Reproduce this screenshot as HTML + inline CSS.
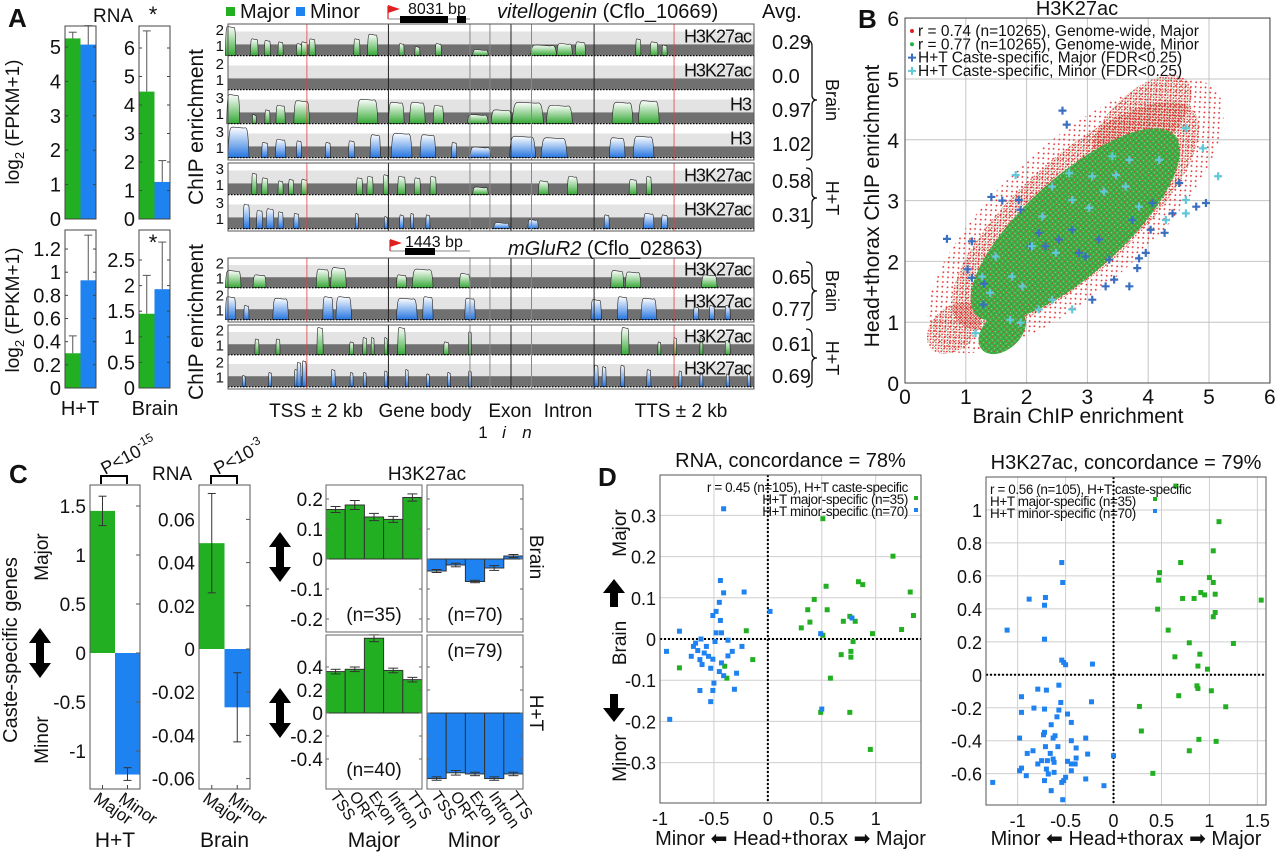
<!DOCTYPE html>
<html><head><meta charset="utf-8">
<style>html,body{margin:0;padding:0;background:#fff;}svg{display:block;font-family:"Liberation Sans",Arial,sans-serif;}</style>
</head><body>
<svg id="fig" xmlns="http://www.w3.org/2000/svg" width="1280" height="853" viewBox="0 0 1280 853">
<defs>
<linearGradient id="gG" x1="0" y1="0" x2="0" y2="1"><stop offset="0" stop-color="#ffffff"/><stop offset="1" stop-color="#34a834"/></linearGradient>
<linearGradient id="gB" x1="0" y1="0" x2="0" y2="1"><stop offset="0" stop-color="#ffffff"/><stop offset="1" stop-color="#2474e0"/></linearGradient>
<pattern id="pRedSparse" width="7" height="7" patternUnits="userSpaceOnUse"><circle cx="1.5" cy="1.5" r="0.9" fill="#e02020"/><circle cx="5" cy="4.5" r="0.9" fill="#e02020"/></pattern>
<pattern id="pRedDense" width="4" height="4" patternUnits="userSpaceOnUse"><circle cx="1" cy="1" r="0.9" fill="#e02020"/><circle cx="3" cy="3" r="0.8" fill="#d83030"/><circle cx="3" cy="1" r="0.5" fill="#3cae3c"/></pattern>
<pattern id="pGreen" width="4" height="4" patternUnits="userSpaceOnUse"><rect width="4" height="4" fill="#3cae44"/><circle cx="3" cy="1" r="0.6" fill="#e03030"/><circle cx="1" cy="3" r="0.5" fill="#bfe8bf"/></pattern>
</defs>
</svg>
<script>
// ---------------- DATA ----------------
const rnaCats = ['Major','Minor'];
const rnaTopHT = [5.25, 5.07];
const rnaTopHTErr = [0.18, 0.55];
const rnaTopBrain = [4.47, 1.3];
const rnaTopBrainErr = [2.13, 0.75];
const rnaBotHT = [0.3, 0.93];
const rnaBotHTErr = [0.15, 0.39];
const rnaBotBrain = [1.45, 1.93];
const rnaBotBrainErr = [0.75, 0.92];

const avgTop = ['0.29','0.0','0.97','1.02','0.58','0.31'];
const avgBot = ['0.65','0.77','0.61','0.69'];
const trackLabelsTop = ['H3K27ac','H3K27ac','H3','H3','H3K27ac','H3K27ac'];
const trackTicksTop = [['2','1'],['2','1'],['3','1'],['3','1'],['3','1'],['3','1']];
const trackTicksBot = [['2','1'],['2','1'],['2','1'],['2','1']];
const pkT1 = [[0.005,0.02,0.95],[0.05,0.015,0.55],[0.075,0.012,0.5],[0.1,0.01,0.45],[0.135,0.01,0.4],[0.145,0.012,0.45],[0.16,0.012,0.55],[0.245,0.012,0.55],[0.275,0.02,0.7],[0.33,0.01,0.4],[0.36,0.01,0.3],[0.4,0.012,0.4],[0.48,0.03,0.2],[0.6,0.05,0.35],[0.64,0.03,0.4],[0.67,0.02,0.45],[0.78,0.01,0.55],[0.81,0.015,0.45],[0.83,0.01,0.35]];
const pkT2 = [];
const pkT3 = [[0.01,0.025,0.95],[0.05,0.008,0.3],[0.075,0.01,0.45],[0.1,0.018,0.6],[0.14,0.03,0.75],[0.265,0.04,0.8],[0.32,0.03,0.7],[0.36,0.03,0.7],[0.4,0.02,0.6],[0.475,0.04,0.3],[0.52,0.04,0.45],[0.57,0.06,0.7],[0.63,0.05,0.6],[0.75,0.04,0.7],[0.8,0.04,0.75]];
const pkT4 = [[0.02,0.04,1.0],[0.07,0.012,0.5],[0.1,0.02,0.6],[0.135,0.01,0.55],[0.19,0.01,0.5],[0.235,0.012,0.55],[0.28,0.02,0.75],[0.33,0.04,0.8],[0.38,0.03,0.75],[0.43,0.01,0.5],[0.48,0.04,0.35],[0.56,0.05,0.7],[0.62,0.05,0.65],[0.74,0.03,0.65],[0.79,0.04,0.7]];
const pkT5 = [[0.05,0.01,0.7],[0.07,0.012,0.55],[0.1,0.01,0.45],[0.12,0.01,0.5],[0.145,0.012,0.5],[0.25,0.012,0.55],[0.27,0.012,0.6],[0.3,0.01,0.65],[0.33,0.015,0.6],[0.36,0.012,0.55],[0.39,0.012,0.6],[0.48,0.03,0.25],[0.6,0.02,0.45],[0.655,0.02,0.6],[0.77,0.015,0.5],[0.8,0.01,0.6]];
const pkT6 = [[0.035,0.012,0.8],[0.06,0.012,0.6],[0.08,0.015,0.65],[0.1,0.01,0.55],[0.13,0.01,0.5],[0.245,0.006,0.5],[0.3,0.006,0.4],[0.33,0.008,0.45],[0.35,0.006,0.5],[0.38,0.008,0.45],[0.52,0.03,0.2],[0.58,0.02,0.3],[0.72,0.01,0.45],[0.8,0.02,0.5],[0.83,0.012,0.45]];
const pkB1 = [[0.01,0.03,0.6],[0.06,0.025,0.45],[0.18,0.025,0.65],[0.21,0.03,0.7],[0.33,0.02,0.45],[0.37,0.04,0.65],[0.45,0.02,0.5],[0.74,0.025,0.6],[0.77,0.03,0.55],[0.915,0.03,0.45]];
const pkB2 = [[0.005,0.02,0.8],[0.035,0.01,0.5],[0.1,0.03,0.75],[0.19,0.02,0.8],[0.22,0.03,0.8],[0.34,0.04,0.75],[0.38,0.02,0.8],[0.46,0.02,0.75],[0.7,0.02,0.7],[0.75,0.02,0.8],[0.8,0.03,0.75],[0.89,0.01,0.45],[0.92,0.01,0.5],[0.95,0.01,0.5]];
const pkB3 = [[0.055,0.008,0.55],[0.095,0.008,0.55],[0.175,0.012,0.95],[0.235,0.008,0.45],[0.26,0.008,0.6],[0.275,0.006,0.6],[0.3,0.006,0.6],[0.33,0.015,0.95],[0.415,0.01,0.45],[0.46,0.006,0.8],[0.755,0.015,0.95],[0.82,0.006,0.45],[0.85,0.006,0.6],[0.9,0.006,0.6],[0.95,0.01,0.5]];
const pkB4 = [[0.03,0.006,0.4],[0.08,0.006,0.5],[0.13,0.008,0.6],[0.135,0.008,0.85],[0.145,0.008,0.9],[0.2,0.008,0.6],[0.235,0.006,0.5],[0.26,0.006,0.5],[0.3,0.006,0.55],[0.34,0.006,0.6],[0.38,0.006,0.45],[0.42,0.006,0.5],[0.46,0.006,0.55],[0.7,0.008,0.75],[0.715,0.008,0.7],[0.75,0.008,0.75],[0.8,0.008,0.6],[0.86,0.006,0.55],[0.9,0.006,0.5],[0.95,0.006,0.45],[0.99,0.006,0.45]];
const regionLines = [0.150,0.305,0.460,0.498,0.538,0.577,0.696,0.848];

const bTicks = [0,1,2,3,4,5,6];
const cloudRedWide = [2.8,2.75,3.1,1.2];
const cloudRedCore = [2.8,2.75,2.6,0.95];
const cloudRedLow = [0.8,0.9,0.5,0.35];
const cloudRedHigh = [3.9,4.3,1.0,0.5];
const cloudGreen = [2.8,2.6,2.2,0.8];
const cloudGreenLow = [1.6,0.85,0.45,0.3];
const majX = [2.59,2.66,1.42,1.60,0.69,1.10,1.03,1.10,1.30,1.29,1.87,1.90,2.20,2.31,2.75,2.86,3.08,3.30,3.44,3.69,3.82,3.96,3.85,4.04,4.27,4.40,4.79,4.95,4.51,4.07,3.74,3.36,3.19,2.97,2.53,2.06];
const majY = [4.48,4.25,3.06,3.00,2.37,2.33,1.87,1.73,1.63,1.29,3.01,2.85,2.47,2.25,2.52,2.14,1.37,1.59,1.70,1.59,1.89,2.14,2.05,2.52,2.47,2.79,2.90,2.96,3.29,2.96,2.68,2.03,2.36,2.08,2.36,2.25];
const minX = [1.82,2.70,2.42,3.08,3.41,3.47,3.69,4.18,4.62,4.90,5.15,4.62,4.62,4.29,3.63,3.03,2.75,2.26,2.09,1.76,1.49,1.40,1.90,1.73,2.20,2.42,2.75,1.27,1.16,3.27,3.85,2.48,1.93];
const minY = [3.42,3.45,3.23,3.40,3.73,3.42,3.67,3.67,4.19,3.86,3.40,3.01,2.79,2.68,3.23,2.88,3.01,2.74,2.25,1.75,2.08,1.48,0.99,1.04,1.21,1.37,1.21,1.75,0.82,3.15,2.90,2.14,1.59];

const cCats = ['Major','Minor'];
const cHT = [1.45,-1.24];
const cHTErrLo = [1.30,-1.30];
const cHTErrHi = [1.60,-1.17];
const cBrain = [0.049,-0.027];
const cBrainErrLo = [0.026,-0.043];
const cBrainErrHi = [0.072,-0.011];
const regions = ['TSS','ORF','Exon','Intron','TTS'];
const brainMajor = [0.165,0.18,0.14,0.132,0.205];
const brainMinor = [-0.04,-0.02,-0.075,-0.03,0.01];
const htMajor = [0.36,0.38,0.65,0.37,0.29];
const htMinor = [-0.57,-0.52,-0.53,-0.57,-0.53];
const brainMajorErr = [0.01,0.015,0.012,0.01,0.012];
const brainMinorErr = [0.005,0.006,0.004,0.008,0.005];
const htMajorErr = [0.02,0.02,0.03,0.02,0.02];
const htMinorErr = [0.015,0.02,0.015,0.015,0.015];

const dRnaGreenX = [0.51,1.16,0.84,0.88,0.54,1.32,0.43,0.37,0.55,1.35,0.76,0.70,0.81,0.39,0.31,1.24,-0.20,0.97,0.51,0.79,0.77,0.68,0.77,-0.14,-0.82,-0.40,-0.38,0.58,0.49,0.76,0.95];
const dRnaGreenY = [0.292,0.201,0.139,0.132,0.128,0.114,0.096,0.071,0.071,0.057,0.055,0.043,0.043,0.041,0.027,0.023,0.020,0.013,0.009,-0.006,-0.03,-0.038,-0.044,-0.05,-0.07,-0.066,-0.095,-0.095,-0.178,-0.178,-0.268];
const dRnaBlueX = [-0.41,-0.44,-0.41,-0.22,-0.45,-0.48,-0.51,-0.44,0.02,-0.82,-0.48,-0.43,0.49,0.78,-0.62,-0.37,-0.49,-0.94,-0.24,-0.69,-0.65,-0.59,-0.55,-0.51,-0.71,-0.37,-0.33,-0.43,-0.61,-0.53,-0.45,-0.29,-0.41,-0.50,-0.63,-0.51,-0.31,-0.53,0.50,-0.91,-0.67,-0.63,-0.57];
const dRnaBlueY = [0.316,0.142,0.112,0.114,0.089,0.067,0.057,0.045,0.067,0.019,0.015,0.015,0.013,0.051,0.0,-0.003,-0.006,-0.03,-0.018,-0.018,-0.028,-0.034,-0.042,-0.049,-0.042,-0.041,-0.03,-0.058,-0.062,-0.071,-0.079,-0.083,-0.089,-0.107,-0.125,-0.125,-0.122,-0.152,-0.17,-0.195,-0.01,-0.05,-0.018];
const dAcGreenX = [0.65,1.10,1.04,0.70,0.48,0.47,1.0,1.04,1.54,0.72,0.84,0.91,0.95,1.06,0.46,1.06,1.04,0.57,0.79,1.25,0.90,0.64,0.88,0.98,0.87,0.88,1.02,0.68,0.27,1.17,0.29,0.89,1.07,0.79,0.41];
const dAcGreenY = [1.145,0.929,0.752,0.681,0.62,0.574,0.59,0.56,0.453,0.463,0.463,0.499,0.485,0.489,0.398,0.378,0.352,0.271,0.194,0.19,0.125,0.109,0.053,0.034,-0.067,-0.083,-0.097,-0.127,-0.192,-0.194,-0.341,-0.392,-0.404,-0.461,-0.598];
const dAcBlueX = [-0.54,-0.53,-0.88,-0.71,-0.72,-1.11,-0.72,-0.54,-0.52,-0.50,-0.22,-0.79,-0.70,-0.57,-0.96,-0.55,-0.23,-0.83,-0.72,-0.57,-0.96,-0.48,-0.59,-0.44,-0.65,-0.72,-0.73,-0.61,-0.63,-0.98,-0.29,-0.44,-0.84,-0.71,-0.58,-0.39,-0.90,-0.66,-0.27,0.0,-0.63,-0.39,-0.75,-0.69,-0.62,-0.48,-0.44,-0.40,-0.79,-0.96,-0.98,-0.70,-0.62,-0.44,-0.68,-0.91,-0.50,-0.72,-0.52,-0.29,-1.26,-0.54,-0.10,-0.65,-0.53];
const dAcBlueY = [0.681,0.56,0.459,0.469,0.422,0.271,0.216,0.089,0.075,0.061,0.065,-0.087,-0.093,-0.063,-0.133,-0.168,-0.164,-0.202,-0.208,-0.214,-0.228,-0.238,-0.255,-0.289,-0.303,-0.349,-0.364,-0.37,-0.384,-0.384,-0.384,-0.40,-0.461,-0.436,-0.436,-0.444,-0.477,-0.477,-0.481,-0.491,-0.511,-0.505,-0.521,-0.521,-0.531,-0.525,-0.541,-0.541,-0.541,-0.566,-0.582,-0.572,-0.592,-0.582,-0.602,-0.612,-0.622,-0.642,-0.642,-0.632,-0.653,-0.653,-0.673,-0.703,-0.758];
const dRnaTicksX = [-1,-0.5,0,0.5,1];
const dRnaTicksY = [0.3,0.2,0.1,0,-0.1,-0.2,-0.3];
const dAcTicksX = [-1,-0.5,0,0.5,1,1.5];
const dAcTicksY = [1,0.8,0.6,0.4,0.2,0,-0.2,-0.4,-0.6];

// ---------------- HELPERS ----------------
const NS = 'http://www.w3.org/2000/svg';
const svg = document.getElementById('fig');
const GREEN = '#22b022', BLUE = '#1e82f0';
function mk(tag, parent){ const e = document.createElementNS(NS, tag); (parent || svg).appendChild(e); return e; }
function setA(e, o){ for (const k in o) e.setAttribute(k, o[k]); return e; }
function nm(e, name){
  
  
  return e;
}
function grp(name){ const g = mk('g'); nm(g, name); return g; }
function T(p, x, y, s, size, anchor, extra){
  const t = mk('text', p);
  setA(t, {x: x, y: y, 'font-size': size, 'text-anchor': anchor || 'start', fill: '#111'});
  if (extra) setA(t, extra);
  t.textContent = s;
  return t;
}
function line(p, x1, y1, x2, y2, stroke, w, dash){
  const l = mk('line', p);
  setA(l, {x1: x1, y1: y1, x2: x2, y2: y2, stroke: stroke, 'stroke-width': w || 1});
  if (dash) l.setAttribute('stroke-dasharray', dash);
  return l;
}
function rect(p, x, y, w, h, fill, stroke){
  const r = mk('rect', p);
  setA(r, {x: x, y: y, width: w, height: Math.max(0, h), fill: fill || 'none'});
  if (stroke) setA(r, {stroke: stroke, 'stroke-width': 1});
  return r;
}
function dblArrow(p, cx, cy, len){
  const a = mk('path', p);
  const h = len / 2;
  setA(a, {d: `M${cx},${cy-h} L${cx+11},${cy-h+15} L${cx+4},${cy-h+15} L${cx+4},${cy+h-15} L${cx+11},${cy+h-15} L${cx},${cy+h} L${cx-11},${cy+h-15} L${cx-4},${cy+h-15} L${cx-4},${cy-h+15} L${cx-11},${cy-h+15} Z`, fill: '#000'});
  return a;
}
function arrow(p, cx, cy, up){
  const a = mk('path', p);
  const s = up ? -1 : 1;
  setA(a, {d: `M${cx},${cy+s*14} L${cx+11},${cy} L${cx+4},${cy} L${cx+4},${cy-s*14} L${cx-4},${cy-s*14} L${cx-4},${cy} L${cx-11},${cy} Z`, fill: '#000'});
  return a;
}

// ---------------- PANEL A: RNA bars ----------------
function rnaChart(name, x0, x1, yTop, yZero, ppu, vals, errs, ticks, labels){
  const g = grp(name);
  const mid = (x0 + x1) / 2;
  vals.forEach((v, i) => {
    const b = rect(g, i === 0 ? x0 : mid, yZero - ppu * v, mid - x0, ppu * v, i === 0 ? GREEN : BLUE);
    
    
    const cx = i === 0 ? (x0 + mid) / 2 : (mid + x1) / 2;
    const yv = yZero - ppu * v, ye = yZero - ppu * (v + errs[i]);
    const e = line(g, cx, yv, cx, ye, '#555', 1);
    
    
    line(g, cx - 4, ye, cx + 4, ye, '#555', 1);
  });
  const f = rect(g, x0, yTop, x1 - x0, yZero - yTop, 'none', '#444');
  
  
  ticks.forEach((t, i) => {
    const y = yZero - ppu * t;
    line(g, x0, y, x0 + 3, y, '#444', 1);
    line(g, x1, y, x1 - 3, y, '#444', 1);
    const tl = T(g, x0 - 4, y + 7, labels[i], 20, 'end');
    
    
  });
}
rnaChart('rna-ht-top', 65, 96, 26, 219, 34.4, rnaTopHT, rnaTopHTErr, [0,1,2,3,4,5], ['0','1','2','3','4','5']);
rnaChart('rna-brain-top', 139, 170, 26, 219, 28.5, rnaTopBrain, rnaTopBrainErr, [0,1,2,3,4,5,6], ['0','1','2','3','4','5','6']);
rnaChart('rna-ht-bottom', 65, 96, 230, 388, 115.8, rnaBotHT, rnaBotHTErr, [0,0.2,0.4,0.6,0.8,1,1.2], ['0','0.2','0.4','0.6','0.8','1','1.2']);
rnaChart('rna-brain-bottom', 139, 170, 230, 388, 51.2, rnaBotBrain, rnaBotBrainErr, [0,0.5,1,1.5,2,2.5], ['0','0.5','1','1.5','2','2.5']);

(function(){
  const g = grp('panel-a-labels');
  let t;
  t = T(g, 8, 27, 'A', 26, 'start', {'font-weight': 'bold'}); nm(t, 'panel-a-letter');
  t = T(g, 93, 22, 'RNA', 19); nm(t, 'rna-title');
  t = T(g, 153, 22, '*', 22, 'middle'); nm(t, 'significance-star');
  t = T(g, 153, 250, '*', 22, 'middle'); nm(t, 'significance-star');
  t = T(g, 80, 415, 'H+T', 20, 'middle'); nm(t, 'x-label-ht');
  t = T(g, 155, 415, 'Brain', 20, 'middle'); nm(t, 'x-label-brain');
  [[122],[310]].forEach(([cy]) => {
    const yl = mk('text', g);
    setA(yl, {transform: `translate(19,${cy}) rotate(-90)`, 'font-size': 19, 'text-anchor': 'middle', fill: '#111'});
    nm(yl, 'y-axis-title');
    const a = mk('tspan', yl); a.textContent = 'log';
    const b = mk('tspan', yl); setA(b, {'font-size': 13, dy: 5}); b.textContent = '2';
    const c = mk('tspan', yl); setA(c, {dy: -5}); c.textContent = ' (FPKM+1)';
  });
  [[127],[322]].forEach(([cy]) => {
    const yl = T(g, 0, 0, 'ChIP enrichment', 21, 'middle', {transform: `translate(203,${cy}) rotate(-90)`});
    nm(yl, 'chip-y-axis-title');
  });
})();

// ---------------- PANEL A: genome browser ----------------
function drawTrack(p, x0, x1, top, h, peaks, color, label, ticks, name){
  const g = mk('g', p); nm(g, name);
  const W = x1 - x0, base = top + h * 0.93;
  rect(g, x0, top, W, h, '#fff');
  rect(g, x0, top + h * 0.22, W, h * 0.38, '#e3e3e3');
  rect(g, x0, top + h * 0.6, W, h * 0.33, '#707070');
  peaks.forEach(pk => {
    const c = x0 + pk[0] * W, w = Math.max(3, pk[1] * W), ht = pk[2] * h * 0.9;
    const a = c - w / 2, b = c + w / 2, ty = base - ht;
    const path = mk('path', g);
    setA(path, {d: `M${a},${base} C${a+w*0.05},${ty} ${a+w*0.1},${ty} ${a+w*0.25},${ty} L${b-w*0.25},${ty+1} C${b-w*0.1},${ty} ${b-w*0.05},${ty} ${b},${base} Z`, fill: color === 'g' ? 'url(#gG)' : 'url(#gB)', stroke: '#222', 'stroke-width': 0.6});
    
    
  });
  line(g, x0, base, x1, base, '#000', 1.2, '1.5,1.5');
  const tl = T(g, x1 - 3, top + h * 0.55, label, 18, 'end', {'letter-spacing': '-1'});
  nm(tl, 'track-label');
  const t1 = T(g, x0 - 4, top + h * 0.33, ticks[0], 15, 'end'); nm(t1, 'track-tick');
  const t2 = T(g, x0 - 4, top + h * 0.8, ticks[1], 15, 'end'); nm(t2, 'track-tick');
}
function drawRegionLines(p, x0, x1, y0, y1){
  const W = x1 - x0;
  regionLines.forEach((f, i) => {
    const red = (i === 0 || i === regionLines.length - 1);
    const strong = (i === 1 || i === 6 || i === 4);
    const l = line(p, x0 + f * W, y0, x0 + f * W, y1, red ? '#e04040' : (strong ? '#222' : '#888'), red ? 0.8 : 1);
    
    
  });
}
function braces(p, x, y0, y1, text){
  const m = (y0 + y1) / 2;
  const b = mk('path', p);
  setA(b, {d: `M${x},${y0} q6,0 6,6 V${m-5} q0,5 5,5 q-5,0 -5,5 V${y1-6} q0,6 -6,6`, fill: 'none', stroke: '#111', 'stroke-width': 1.3});
  nm(b, 'group-brace');
  const t = T(p, 0, 0, text, 18, 'middle', {transform: `translate(826,${m}) rotate(90)`});
  nm(t, 'group-label');
}
(function(){
  const x0 = 228, x1 = 754;
  const gTop = grp('vitellogenin-browser');
  const topPk = [pkT1, pkT2, pkT3, pkT4, pkT5, pkT6];
  const cols = ['g','b','g','b','g','b'];
  topPk.forEach((pk, i) => {
    const top = i < 4 ? 24 + i * 34 : 163 + (i - 4) * 34;
    drawTrack(gTop, x0, x1, top, 34, pk, cols[i], trackLabelsTop[i], trackTicksTop[i], 'track-' + (i + 1));
    const a = T(gTop, 772, top + 25, avgTop[i], 20); nm(a, 'avg-value');
  });
  drawRegionLines(gTop, x0, x1, 24, 160);
  drawRegionLines(gTop, x0, x1, 163, 231);
  rect(gTop, x0, 24, x1 - x0, 136, 'none', '#555');
  rect(gTop, x0, 163, x1 - x0, 68, 'none', '#555');
  braces(gTop, 806, 40, 160, 'Brain');
  braces(gTop, 806, 168, 228, 'H+T');

  const gBot = grp('mglur2-browser');
  const botPk = [pkB1, pkB2, pkB3, pkB4];
  botPk.forEach((pk, i) => {
    const top = i < 2 ? 258 + i * 32 : 325 + (i - 2) * 32;
    drawTrack(gBot, x0, x1, top, 32, pk, i % 2 === 0 ? 'g' : 'b', 'H3K27ac', trackTicksBot[i], 'track-b' + (i + 1));
    const a = T(gBot, 772, top + 26, avgBot[i], 20); nm(a, 'avg-value');
  });
  drawRegionLines(gBot, x0, x1, 258, 322);
  drawRegionLines(gBot, x0, x1, 325, 389);
  rect(gBot, x0, 258, x1 - x0, 64, 'none', '#555');
  rect(gBot, x0, 325, x1 - x0, 64, 'none', '#555');
  braces(gBot, 806, 262, 320, 'Brain');
  braces(gBot, 806, 329, 387, 'H+T');

  const lg = grp('browser-legend');
  let r = rect(lg, 226, 7, 9, 9, GREEN); nm(r, 'legend-major-swatch');
  let t = T(lg, 240, 18, 'Major', 20); nm(t, 'legend-major');
  r = rect(lg, 296, 7, 9, 9, BLUE); nm(r, 'legend-minor-swatch');
  t = T(lg, 310, 18, 'Minor', 20); nm(t, 'legend-minor');
  const gm = grp('gene-model-vitellogenin');
  line(gm, 388, 19, 470, 19, '#888', 1);
  rect(gm, 400, 16, 48, 7, '#000');
  rect(gm, 457, 16, 9, 7, '#000');
  line(gm, 388, 19, 388, 6, '#e02020', 1.2);
  let ar = mk('path', gm); setA(ar, {d: 'M388,5 L400,9 L388,13 Z', fill: '#e02020'});
  t = T(gm, 408, 14, '8031 bp', 16); nm(t, 'gene-length');
  t = T(lg, 497, 18, '', 20); nm(t, 'gene-title-vitellogenin');
  let s1 = mk('tspan', t); s1.setAttribute('font-style', 'italic'); s1.textContent = 'vitellogenin';
  let s2 = mk('tspan', t); s2.textContent = ' (Cflo_10669)';
  t = T(lg, 762, 18, 'Avg.', 20); nm(t, 'avg-header');

  const gm2 = grp('gene-model-mglur2');
  line(gm2, 390, 251, 470, 251, '#888', 1);
  rect(gm2, 405, 248, 30, 7, '#000');
  line(gm2, 390, 251, 390, 240, '#e02020', 1.2);
  ar = mk('path', gm2); setA(ar, {d: 'M390,239 L402,243 L390,247 Z', fill: '#e02020'});
  t = T(gm2, 405, 247, '1443 bp', 16); nm(t, 'gene-length');
  t = T(lg, 508, 255, '', 20); nm(t, 'gene-title-mglur2');
  s1 = mk('tspan', t); s1.setAttribute('font-style', 'italic'); s1.textContent = 'mGluR2';
  s2 = mk('tspan', t); s2.textContent = ' (Cflo_02863)';

  const xl = grp('region-axis-labels');
  [['TSS ± 2 kb',316],['Gene body',425],['Exon',510],['Intron',568],['TTS ± 2 kb',681]].forEach(([s, x]) => {
    const q = T(xl, x, 417, s, 19, 'middle'); nm(q, 'region-label');
  });
  [['1',483,''],['i',504,'italic'],['n',527,'italic']].forEach(([s, x, st]) => {
    const q = T(xl, x, 438, s, 17, 'middle', st ? {'font-style': st} : null); nm(q, 'exon-index-label');
  });
})();

// ---------------- PANEL B: scatter ----------------
(function(){
  const X0 = 905, X1 = 1270, Y0 = 383, YT = 18, ppu = 60.8;
  const sx = v => X0 + v * ppu, sy = v => Y0 - v * ppu;
  const g = grp('panel-b-scatter');
  bTicks.forEach(t => {
    line(g, sx(t), YT, sx(t), Y0, '#c4c4c4', 1);
    line(g, X0, sy(t), X1, sy(t), '#c4c4c4', 1);
    const xl = T(g, sx(t), 404, String(t), 21, 'middle'); nm(xl, 'x-tick-label');
    const yl = T(g, 899, sy(t) + 8, String(t), 21, 'end'); nm(yl, 'y-tick-label');
  });
  const clip = mk('clipPath', g); clip.setAttribute('id', 'clipB');
  rect(clip, X0, YT, X1 - X0, Y0 - YT, '#000');
  const cg = mk('g', g); cg.setAttribute('clip-path', 'url(#clipB)'); nm(cg, 'density-cloud');
  function ell(c, fill, name){
    const e = mk('ellipse', cg);
    setA(e, {cx: sx(c[0]), cy: sy(c[1]), rx: c[2] * ppu, ry: c[3] * ppu, fill: fill, transform: `rotate(-42 ${sx(c[0])} ${sy(c[1])})`});
    
    
  }
  ell(cloudRedWide, 'url(#pRedSparse)', 'genome-wide-major-sparse');
  ell(cloudRedLow, 'url(#pRedDense)', 'genome-wide-major-low');
  ell(cloudRedHigh, 'url(#pRedDense)', 'genome-wide-major-high');
  ell(cloudRedCore, 'url(#pRedDense)', 'genome-wide-major');
  ell(cloudGreen, 'url(#pGreen)', 'genome-wide-minor');
  ell(cloudGreenLow, 'url(#pGreen)', 'genome-wide-minor-low');
  function cross(x, y, col, name){
    const p = mk('path', cg);
    setA(p, {d: `M${x-4},${y} H${x+4} M${x},${y-4} V${y+4}`, stroke: col, 'stroke-width': 2.2});
    
    
  }
  majX.forEach((v, i) => cross(sx(v), sy(majY[i]), '#3a6fc0', 'caste-specific-major-point'));
  minX.forEach((v, i) => cross(sx(v), sy(minY[i]), '#62c8d8', 'caste-specific-minor-point'));
  const f = rect(g, X0, YT, X1 - X0, Y0 - YT, 'none', '#444'); nm(f, 'plot-frame');
  const lg = grp('panel-b-legend');
  const entries = [['r = 0.74 (n=10265), Genome-wide, Major','#e02020','dot'],['r = 0.77 (n=10265), Genome-wide, Minor','#22b040','dot'],['H+T Caste-specific, Major (FDR<0.25)','#3a6fc0','cross'],['H+T Caste-specific, Minor (FDR<0.25)','#62c8d8','cross']];
  entries.forEach((e, i) => {
    const y = 31 + i * 13.3;
    if (e[2] === 'dot') { const c = mk('circle', lg); setA(c, {cx: 912, cy: y, r: 2, fill: e[1]}); nm(c, 'legend-marker'); }
    else { const c = mk('path', lg); setA(c, {d: `M908,${y} H916 M912,${y-4} V${y+4}`, stroke: e[1], 'stroke-width': 2}); nm(c, 'legend-marker'); }
    const t = T(lg, 918, y + 5, e[0], 15.5); nm(t, 'legend-entry');
  });
  let t = T(g, 1077, 15, 'H3K27ac', 20, 'middle'); nm(t, 'chart-title');
  t = T(g, 1078, 423, 'Brain ChIP enrichment', 21, 'middle'); nm(t, 'x-axis-title');
  t = T(g, 0, 0, 'Head+thorax ChIP enrichment', 21, 'middle', {transform: 'translate(879,206) rotate(-90)'}); nm(t, 'y-axis-title');
  t = T(g, 858, 28, 'B', 26, 'start', {'font-weight': 'bold'}); nm(t, 'panel-b-letter');
})();

// ---------------- PANEL C ----------------
function cRnaChart(name, x0, x1, yTop, yBot, yZero, ppu, vals, lo, hi, ticks, labels, xlab, bx){
  const g = grp(name);
  const mid = (x0 + x1) / 2;
  vals.forEach((v, i) => {
    const y = yZero - ppu * Math.max(v, 0), h = Math.abs(ppu * v);
    const b = rect(g, i === 0 ? x0 : mid, y, mid - x0, h, i === 0 ? GREEN : BLUE);
    
    
    const cx = i === 0 ? (x0 + mid) / 2 : (mid + x1) / 2;
    const y1 = yZero - ppu * lo[i], y2 = yZero - ppu * hi[i];
    line(g, cx, y1, cx, y2, '#333', 1);
    line(g, cx - 4, y1, cx + 4, y1, '#333', 1);
    line(g, cx - 4, y2, cx + 4, y2, '#333', 1);
    line(g, cx, yBot, cx, yBot - 4, '#444', 1);
    const xl = T(g, 0, 0, cCats[i], 17, 'start', {transform: `translate(${cx - 10},${yBot + 12}) rotate(35)`});
    nm(xl, 'x-tick-label');
  });
  const f = rect(g, x0, yTop, x1 - x0, yBot - yTop, 'none', '#555'); nm(f, 'plot-frame');
  ticks.forEach((t, i) => {
    const y = yZero - ppu * t;
    line(g, x1, y, x1 - 4, y, '#555', 1);
    const tl = T(g, x0 - 4, y + 7, labels[i], 19, 'end'); nm(tl, 'y-tick-label');
  });
  const xt = T(g, (x0 + x1) / 2, 847, xlab, 21, 'middle'); nm(xt, 'x-axis-title');
  const br = mk('path', g); setA(br, {d: `M${bx[0]},${yTop-1} V${yTop-9} H${bx[1]} V${yTop-1}`, fill: 'none', stroke: '#000', 'stroke-width': 2}); nm(br, 'significance-bracket');
}
cRnaChart('c-rna-ht', 90, 140, 485, 789, 653, 98, cHT, cHTErrLo, cHTErrHi, [1.5,1,0.5,0,-0.5,-1], ['1.5','1','0.5','0','-0.5','-1'], 'H+T', [101,127]);
cRnaChart('c-rna-brain', 199, 250, 485, 789, 649, 2160, cBrain, cBrainErrLo, cBrainErrHi, [0.06,0.04,0.02,0,-0.02,-0.04,-0.06], ['0.06','0.04','0.02','0','-0.02','-0.04','-0.06'], 'Brain', [211,237]);

function c3Panel(name, x0, x1, yTop, yBot, yZero, ppu, vals, errs, color, nLabel, nY, ticks, labels){
  const g = grp(name);
  const bw = (x1 - x0) / vals.length;
  vals.forEach((v, i) => {
    const y = yZero - ppu * Math.max(v, 0), h = Math.abs(ppu * v);
    const b = rect(g, x0 + i * bw, y, bw, h, color, '#333');
    
    
    const cx = x0 + (i + 0.5) * bw;
    const vy = yZero - ppu * v, e = ppu * errs[i];
    line(g, cx, vy - e, cx, vy + e, '#333', 1);
    line(g, cx - 5, vy - e, cx + 5, vy - e, '#333', 1);
    line(g, cx - 5, vy + e, cx + 5, vy + e, '#333', 1);
  });
  const f = rect(g, x0, yTop, x1 - x0, yBot - yTop, 'none', '#666'); nm(f, 'plot-frame');
  ticks.forEach((t, i) => {
    const y = yZero - ppu * t;
    line(g, x0, y, x0 + 3, y, '#666', 1);
    line(g, x1, y, x1 - 3, y, '#666', 1);
    if (labels) { const tl = T(g, x0 - 3, y + 7, labels[i], 19, 'end'); nm(tl, 'y-tick-label'); }
  });
  const nl = T(g, (x0 + x1) / 2, nY, nLabel, 19, 'middle'); nm(nl, 'n-label');
}
c3Panel('c-brain-major', 326, 422, 485, 632, 559, 300, brainMajor, brainMajorErr, GREEN, '(n=35)', 621, [0.2,0.1,0,-0.1,-0.2], ['0.2','0.1','0','-0.1','-0.2']);
c3Panel('c-brain-minor', 427, 523, 485, 632, 559, 300, brainMinor, brainMinorErr, BLUE, '(n=70)', 621, [0.2,0.1,0,-0.1,-0.2], null);
c3Panel('c-ht-major', 326, 422, 635, 789, 713, 115, htMajor, htMajorErr, GREEN, '(n=40)', 776, [0.4,0.2,0,-0.2,-0.4], ['0.4','0.2','0','-0.2','-0.4']);
c3Panel('c-ht-minor', 427, 523, 635, 789, 713, 115, htMinor, htMinorErr, BLUE, '(n=79)', 657, [0.4,0.2,0,-0.2,-0.4], null);

(function(){
  const g = grp('panel-c-labels');
  let t = T(g, 9, 483, 'C', 26, 'start', {'font-weight': 'bold'}); nm(t, 'panel-c-letter');
  t = T(g, 152, 480, 'RNA', 19); nm(t, 'rna-title');
  t = T(g, 427, 480, 'H3K27ac', 19, 'middle'); nm(t, 'h3k27ac-title');
  [[105,475,'15'],[218,475,'3']].forEach(([x, y, ex]) => {
    const p = T(g, 0, 0, '', 18, 'start', {transform: `translate(${x},${y}) rotate(-28)`}); nm(p, 'p-value-label');
    const a = mk('tspan', p); a.textContent = 'P<10';
    const b = mk('tspan', p); setA(b, {'font-size': 12, dy: -8}); b.textContent = '-' + ex;
  });
  t = T(g, 0, 0, 'Caste-specific genes', 20, 'middle', {transform: 'translate(17,650) rotate(-90)'}); nm(t, 'y-axis-title');
  t = T(g, 0, 0, 'Major', 19, 'middle', {transform: 'translate(48,557) rotate(-90)'}); nm(t, 'major-direction-label');
  t = T(g, 0, 0, 'Minor', 19, 'middle', {transform: 'translate(48,740) rotate(-90)'}); nm(t, 'minor-direction-label');
  nm(dblArrow(g, 40, 653, 50), 'direction-arrow');
  nm(dblArrow(g, 280, 557, 50), 'direction-arrow');
  nm(dblArrow(g, 280, 713, 50), 'direction-arrow');
  t = T(g, 0, 0, 'Brain', 19, 'middle', {transform: 'translate(530,557) rotate(90)'}); nm(t, 'row-label-brain');
  t = T(g, 0, 0, 'H+T', 19, 'middle', {transform: 'translate(530,713) rotate(90)'}); nm(t, 'row-label-ht');
  [[326,422],[427,523]].forEach(([x0, x1]) => {
    const bw = (x1 - x0) / regions.length;
    regions.forEach((r, i) => {
      const q = T(g, 0, 0, r, 16, 'start', {transform: `translate(${x0 + (i + 0.5) * bw - 6},${796}) rotate(55)`}); nm(q, 'x-tick-label');
    });
  });
  t = T(g, 374, 847, 'Major', 21, 'middle'); nm(t, 'x-axis-title');
  t = T(g, 474, 847, 'Minor', 21, 'middle'); nm(t, 'x-axis-title');
})();

// ---------------- PANEL D ----------------
function dScatter(name, X0, X1, YT, YB, xmin, xmax, ymin, ymax, gx, gy, gxLab, gyLab, gX, gY, bX, bY, title, legend, legLeft){
  const g = grp(name);
  const sx = v => X0 + (v - xmin) / (xmax - xmin) * (X1 - X0);
  const sy = v => YB - (v - ymin) / (ymax - ymin) * (YB - YT);
  gx.forEach((t, i) => {
    line(g, sx(t), YT, sx(t), YB, '#cfcfcf', 1);
    const l = T(g, sx(t), YB + 22, gxLab[i], 18, 'middle'); nm(l, 'x-tick-label');
  });
  gy.forEach((t, i) => {
    line(g, X0, sy(t), X1, sy(t), '#cfcfcf', 1);
    const l = T(g, X0 - 4, sy(t) + 7, gyLab[i], 18, 'end'); nm(l, 'y-tick-label');
  });
  line(g, sx(0), YT, sx(0), YB, '#000', 2, '2,2');
  line(g, X0, sy(0), X1, sy(0), '#000', 2, '2,2');
  gX.forEach((v, i) => {
    const r = rect(g, sx(v) - 2.5, sy(gY[i]) - 2.5, 5, 5, GREEN);
    
    
  });
  bX.forEach((v, i) => {
    const r = rect(g, sx(v) - 2.5, sy(bY[i]) - 2.5, 5, 5, BLUE);
    
    
  });
  const f = rect(g, X0, YT, X1 - X0, YB - YT, 'none', '#555'); nm(f, 'plot-frame');
  const tt = T(g, (X0 + X1) / 2, YT - 8, title, 20, 'middle'); nm(tt, 'chart-title');
  legend.forEach((s, i) => {
    const y = YT + 13 + i * 12;
    let lt;
    if (legLeft) lt = T(g, X0 + 4, y + 4, s, 13.5, 'start', {'letter-spacing': '-0.4'});
    else lt = T(g, X1 - 13, y + 4, s, 13.5, 'end', {'letter-spacing': '-0.4'});
    nm(lt, 'legend-entry');
  });
  const xa = T(g, (X0 + X1) / 2, 845, 'Minor ⬅ Head+thorax ➡ Major', 20, 'middle', {'font-family': '"Liberation Sans","DejaVu Sans",sans-serif'});
  nm(xa, 'x-axis-title');
  return {g: g, sx: sx, sy: sy};
}
(function(){
  const d1 = dScatter('d-rna-scatter', 660, 921, 475, 803, -1, 1.42, -0.398, 0.398, dRnaTicksX, dRnaTicksY, ['-1','-0.5','0','0.5','1'], ['0.3','0.2','0.1','0','-0.1','-0.2','-0.3'], dRnaGreenX, dRnaGreenY, dRnaBlueX, dRnaBlueY, 'RNA, concordance = 78%', ['r = 0.45 (n=105), H+T caste-specific','H+T major-specific (n=35)','H+T minor-specific (n=70)'], false);
  let r = rect(d1.g, 914, 496, 4, 4, GREEN); nm(r, 'legend-marker');
  r = rect(d1.g, 914, 508, 4, 4, BLUE); nm(r, 'legend-marker');
  const d2 = dScatter('d-h3k27ac-scatter', 986, 1266, 477, 805, -1.33, 1.59, -0.79, 1.2, dAcTicksX, dAcTicksY, ['-1','-0.5','0','0.5','1','1.5'], ['1','0.8','0.6','0.4','0.2','0','-0.2','-0.4','-0.6'], dAcGreenX, dAcGreenY, dAcBlueX, dAcBlueY, 'H3K27ac, concordance = 79%', ['r = 0.56 (n=105), H+T caste-specific','H+T major-specific (n=35)','H+T minor-specific (n=70)'], true);
  r = rect(d2.g, 1153, 497, 4, 4, GREEN); nm(r, 'legend-marker');
  r = rect(d2.g, 1153, 509, 4, 4, BLUE); nm(r, 'legend-marker');
  const g = grp('panel-d-labels');
  let t = T(g, 598, 486, 'D', 26, 'start', {'font-weight': 'bold'}); nm(t, 'panel-d-letter');
  t = T(g, 0, 0, 'Major', 19, 'middle', {transform: 'translate(626,533) rotate(-90)'}); nm(t, 'major-direction-label');
  t = T(g, 0, 0, 'Brain', 19, 'middle', {transform: 'translate(626,643) rotate(-90)'}); nm(t, 'brain-axis-label');
  t = T(g, 0, 0, 'Minor', 19, 'middle', {transform: 'translate(626,758) rotate(-90)'}); nm(t, 'minor-direction-label');
  nm(arrow(g, 614, 593, true), 'up-arrow');
  nm(arrow(g, 614, 708, false), 'down-arrow');
})();
</script>
</body></html>
